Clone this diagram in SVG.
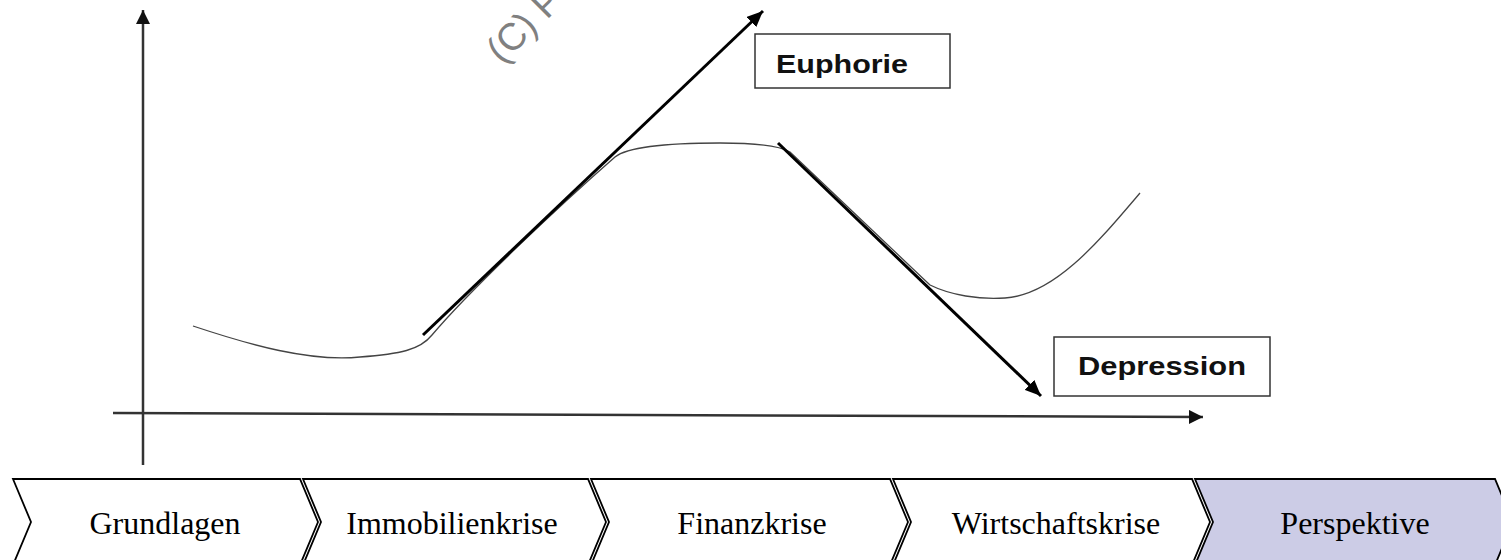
<svg xmlns="http://www.w3.org/2000/svg" width="1501" height="560" viewBox="0 0 1501 560">
<style>
.axis{stroke:#333;stroke-width:2.5;fill:none}
.arr{stroke:#000;stroke-width:3;fill:none}
.curve{stroke:#444;stroke-width:1.3;fill:none}
.box{fill:#fff;stroke:#333;stroke-width:1.5}
.lbl{font-family:"Liberation Sans",Arial,sans-serif;font-weight:bold;font-size:26px;fill:#111}
.chev{fill:#fff;stroke:#000;stroke-width:1.8}
.chev.active{fill:#ccccE6}
.ct{font-family:"Liberation Serif","Times New Roman",serif;font-size:32px;fill:#000;text-anchor:middle}
.wm{font-family:"Liberation Sans",Arial,sans-serif;font-size:38px;fill:#808080}
</style>
<defs>
<marker id="ha" markerUnits="userSpaceOnUse" markerWidth="18" markerHeight="14" refX="16" refY="7" orient="auto">
<path d="M0,0 L16,7 L0,14 Z" fill="#000"/>
</marker>
<marker id="hx" markerUnits="userSpaceOnUse" markerWidth="16" markerHeight="14" refX="14" refY="7" orient="auto">
<path d="M0,0 L14,7 L0,14 Z" fill="#111"/>
</marker>
</defs>
<text class="wm" x="502" y="65" transform="rotate(-45 502 65)">(C) P</text>
<g id="connectors">
<line class="axis" x1="143" y1="465" x2="143" y2="10" marker-end="url(#hx)"/>
<line class="axis" x1="113" y1="413" x2="1203" y2="417" marker-end="url(#hx)"/>
<path class="curve" d="M193,326 C250,345 310,362 360,357 C400,354 420,350 432,335 C470,290 560,205 615,157 C630,145 680,143 720,143 C760,143 780,146 790,152 C830,190 880,238 930,285 C950,295 980,300 1005,298 C1055,295 1100,240 1140,193"/>
<line class="arr" x1="423" y1="335" x2="763" y2="11" marker-end="url(#ha)"/>
<line class="arr" x1="778" y1="143" x2="1041" y2="396" marker-end="url(#ha)"/>
</g>
<g id="euphorie">
<rect class="box" x="755" y="34" width="195" height="54"/>
<text class="lbl" x="776" y="73" textLength="132" lengthAdjust="spacingAndGlyphs">Euphorie</text>
</g>
<g id="depression">
<rect class="box" x="1054" y="337" width="216" height="59"/>
<text class="lbl" x="1078" y="375" textLength="168" lengthAdjust="spacingAndGlyphs">Depression</text>
</g>
<g id="grundlagen">
<path class="chev" d="M13,479 L300,479 L318,522 L300,565 L13,565 L31,522 Z"/>
<text class="ct" x="165" y="534">Grundlagen</text>
</g>
<g id="immobilienkrise">
<path class="chev" d="M303,479 L588,479 L606,522 L588,565 L303,565 L321,522 Z"/>
<text class="ct" x="452" y="534">Immobilienkrise</text>
</g>
<g id="finanzkrise">
<path class="chev" d="M591,479 L890,479 L908,522 L890,565 L591,565 L609,522 Z"/>
<text class="ct" x="752" y="534">Finanzkrise</text>
</g>
<g id="wirtschaftskrise">
<path class="chev" d="M893,479 L1192,479 L1210,522 L1192,565 L893,565 L911,522 Z"/>
<text class="ct" x="1056" y="534">Wirtschaftskrise</text>
</g>
<g id="perspektive">
<path class="chev active" d="M1195,479 L1495,479 L1513,522 L1495,565 L1195,565 L1213,522 Z"/>
<text class="ct" x="1355" y="534">Perspektive</text>
</g>
</svg>
